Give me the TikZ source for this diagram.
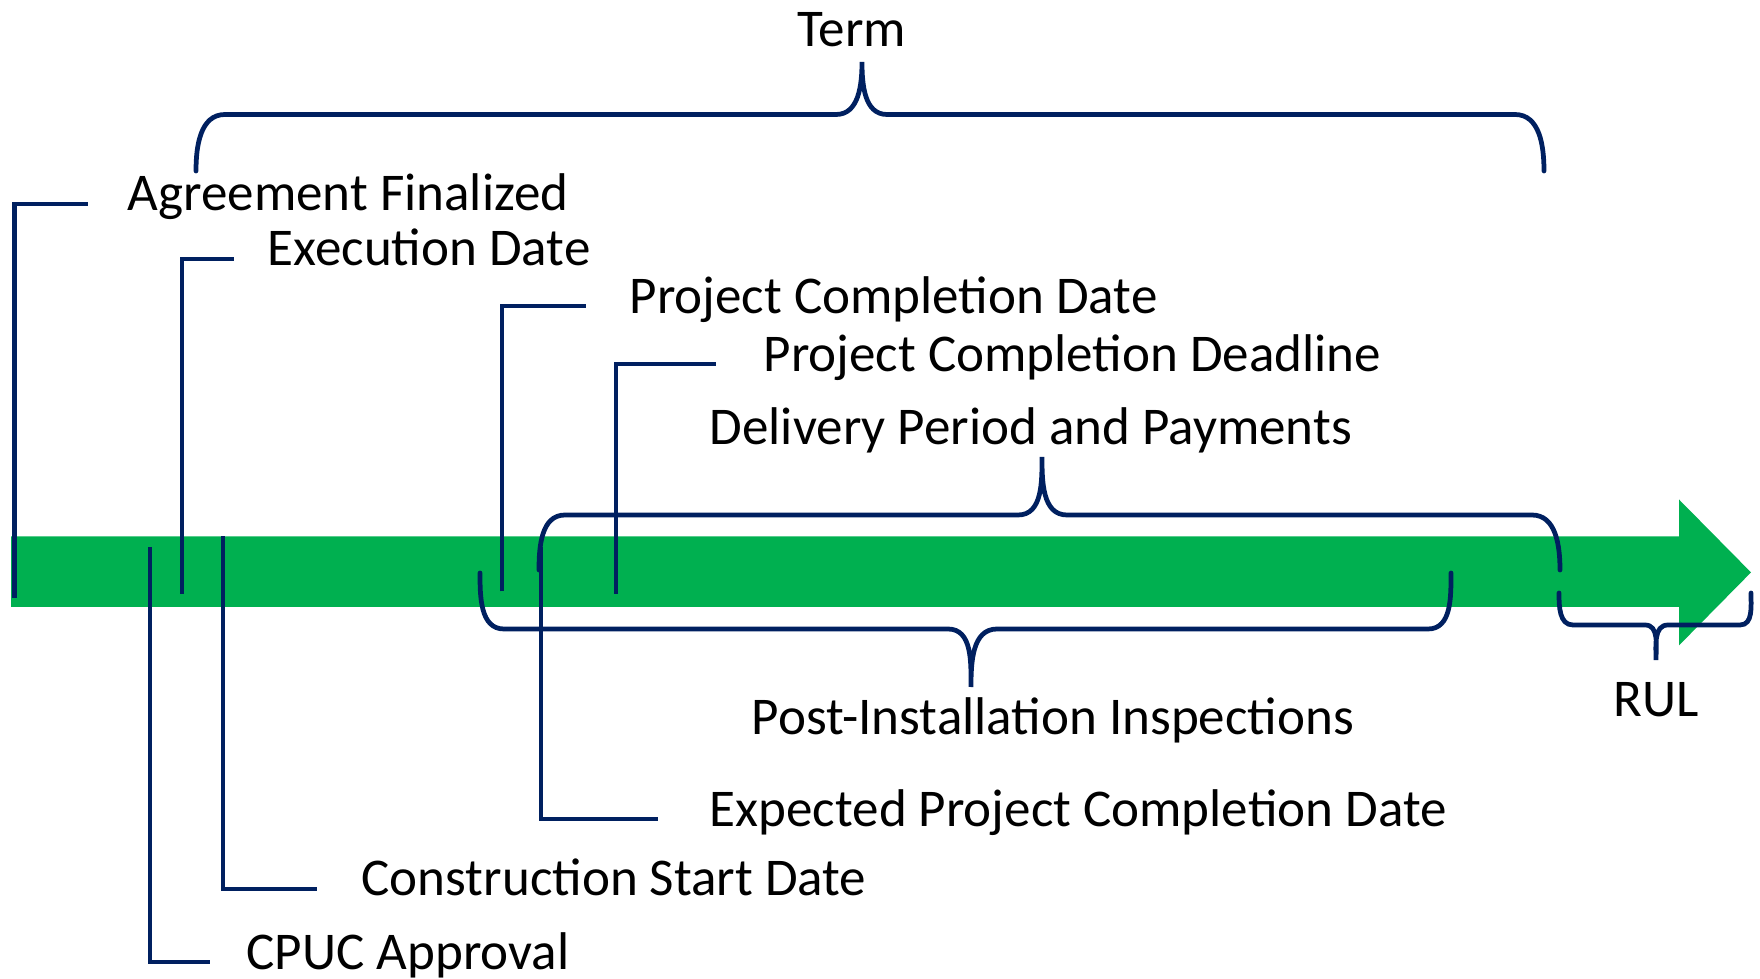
\documentclass[tikz,border=0pt]{standalone}
\usepackage{fontspec}
\setmainfont{Carlito}
\definecolor{navy}{RGB}{0,32,96}
\definecolor{bargreen}{RGB}{0,176,80}

\begin{document}
\begin{tikzpicture}[
      lbl/.style={anchor=base west, inner sep=0pt, font=\fontsize{15.1}{18}\selectfont},
      lead/.style={draw=navy, line width=1.35pt},
      brc/.style={draw=navy, line width=1.35pt, line cap=round}
    ]
      \useasboundingbox (0,0) rectangle (17.6,9.78);

      % time line
      \fill[bargreen] (0.11,4.415) -- (16.79,4.415) -- (16.79,4.785) -- (17.51,4.056)
        -- (16.79,3.326) -- (16.79,3.71) -- (0.11,3.71) -- cycle;

      \node[lbl, anchor=base] (term) at (8.52,9.31)  {Term};
      \node[lbl]  (agr)  at (1.27,7.67)  {Agreement Finalized};
      \node[lbl]  (exe)  at (2.67,7.12)  {Execution Date};
      \node[lbl]  (pcd)  at (6.29,6.64)  {Project Completion Date};
      \node[lbl]  (pcdl) at (7.63,6.06)  {Project Completion Deadline};
      \node[lbl]  (dpp)  at (7.09,5.33)  {Delivery Period and Payments};
      \node[lbl]  (pii)  at (7.51,2.43)  {Post-Installation Inspections};
      \node[lbl, anchor=base] (rul) at (16.56,2.62) {RUL};
      \node[lbl]  (epcd) at (7.09,1.51)  {Expected Project Completion Date};
      \node[lbl]  (csd)  at (3.61,0.83)  {Construction Start Date};
      \node[lbl]  (cpuc) at (2.46,0.09)  {CPUC Approval};

      % ticks on the bar
      \coordinate (tAgr)  at (0.146,3.80);
      \coordinate (tExe)  at (1.82,3.84);
      \coordinate (tPcd)  at (5.02,3.865);
      \coordinate (tPcdl) at (6.16,3.84);
      \coordinate (tCpuc) at (1.50,4.31);
      \coordinate (tCsd)  at (2.23,4.415);
      \coordinate (tEpcd) at (5.41,4.31);

      \draw[lead] (tAgr)  |- ([xshift=-3.95mm,yshift=.7mm]agr.base west);
      \draw[lead] (tExe)  |- ([xshift=-3.35mm,yshift=.7mm]exe.base west);
      \draw[lead] (tPcd)  |- ([xshift=-4.3mm,yshift=.8mm]pcd.base west);
      \draw[lead] (tPcdl) |- ([xshift=-4.7mm,yshift=.8mm]pcdl.base west);
      \draw[lead] (tCpuc) |- ([xshift=-3.6mm,yshift=.7mm]cpuc.base west);
      \draw[lead] (tCsd)  |- ([xshift=-4.45mm,yshift=.6mm]csd.base west);
      \draw[lead] (tEpcd) |- ([xshift=-5.1mm,yshift=.8mm]epcd.base west);

      % braces
      \draw[brc] (1.96,8.07) to[out=90,in=180] (2.25,8.635) -- (8.36,8.635)
        to[out=0,in=-90] (8.62,9.16) to[out=-90,in=180] (8.87,8.635) -- (15.15,8.635)
        to[out=0,in=90] (15.44,8.07);
      \draw[brc] (5.39,4.08) to[out=90,in=180] (5.65,4.63) -- (10.18,4.63)
        to[out=0,in=-90] (10.42,5.21) to[out=-90,in=180] (10.67,4.63) -- (15.32,4.63)
        to[out=0,in=90] (15.60,4.08);
      \draw[brc] (4.80,4.05) to[out=-90,in=180] (5.04,3.49) -- (9.48,3.49)
        to[out=0,in=90] (9.71,2.91) to[out=90,in=180] (9.97,3.49) -- (14.28,3.49)
        to[out=0,in=-90] (14.51,4.05);
      \draw[brc] (15.59,3.85) to[out=-90,in=180] (15.73,3.53) -- (16.45,3.53)
        to[out=0,in=90] (16.56,3.18) to[out=90,in=180] (16.68,3.53) -- (17.40,3.53)
        to[out=0,in=-90] (17.51,3.85);
    \end{tikzpicture}
\end{document}
